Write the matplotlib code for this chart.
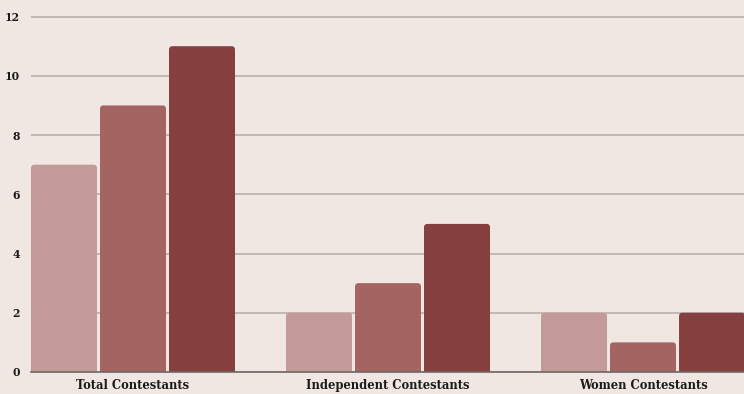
import matplotlib
matplotlib.use("Agg")
import matplotlib.pyplot as plt
from matplotlib.patches import FancyBboxPatch
import numpy as np

categories = ["Total Contestants", "Independent Contestants", "Women Contestants"]
series_1 = [7, 2, 2]
series_2 = [9, 3, 1]
series_3 = [11, 5, 2]
colors = ["#c49a98", "#a36462", "#853f3f"]
y_ticks = [0, 2, 4, 6, 8, 10, 12]

bg = "#f0e7e3"
fig = plt.figure(figsize=(7.44, 3.94), dpi=100, facecolor=bg)
ax = fig.add_axes([31 / 744, 22 / 394, 713 / 744, 356 / 394], facecolor=bg)

x = np.arange(len(categories))
width = 66 / 255
step = 69 / 255
ax.set_xlim(-0.4, 2.396)
ax.set_ylim(0, 12.02)

# rounded top corners: radius in x units, aspect converts to y units
ppx = 713 / (2.396 + 0.4)
ppy = 356 / 12.02
r = 3.5 / ppx
aspect = ppx / ppy

for k, (vals, c) in enumerate(zip([series_1, series_2, series_3], colors)):
    for xi, v in zip(x, vals):
        left = xi + (k - 1) * step - width / 2
        patch = FancyBboxPatch((left, -0.5), width, v + 0.5,
                               boxstyle=f"round,pad=0,rounding_size={r}",
                               mutation_aspect=aspect, facecolor=c,
                               edgecolor="none", zorder=3)
        ax.add_patch(patch)

ax.set_yticks(y_ticks)
ax.set_yticklabels([str(t) for t in y_ticks])
ax.set_xticks(x)
ax.set_xticklabels(categories)
ax.grid(axis="y", color="#b9b0ad", linewidth=1.2, zorder=0)
ax.tick_params(length=0)
for lab in ax.get_xticklabels() + ax.get_yticklabels():
    lab.set_fontfamily("DejaVu Serif")
    lab.set_fontweight("bold")
    lab.set_color("#1a1a1a")
for lab in ax.get_xticklabels():
    lab.set_fontsize(8.3)
for lab in ax.get_yticklabels():
    lab.set_fontsize(7.8)
ax.tick_params(axis="y", pad=8)
ax.tick_params(axis="x", pad=5)
for s in ["top", "right", "left"]:
    ax.spines[s].set_visible(False)
ax.spines["bottom"].set_color("#6e6866")
ax.spines["bottom"].set_linewidth(1.2)
ax.spines["bottom"].set_zorder(4)

fig.savefig("out.png", dpi=100, facecolor=bg)
